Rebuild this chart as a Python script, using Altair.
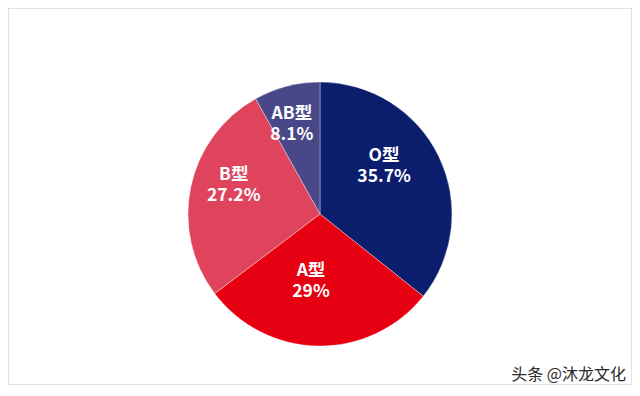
import altair as alt
import pandas as pd

types = ["O型", "A型", "B型", "AB型"]
shares = [35.7, 29.0, 27.2, 8.1]
pct_labels = ["35.7%", "29%", "27.2%", "8.1%"]
colors = ["#0b1e6e", "#e60012", "#df445c", "#484888"]
watermark = "头条 @沐龙文化"

df = pd.DataFrame({
    "type": types,
    "share": shares,
    "pct": pct_labels,
    "order": list(range(len(types))),
})

FONT = "Noto Sans CJK SC"
CX, CY, R = 312, 206, 132

base = alt.Chart(df).encode(
    theta=alt.Theta("share:Q", stack=True),
    order=alt.Order("order:O"),
    color=alt.Color("type:N", scale=alt.Scale(domain=types, range=colors), legend=None),
)

pie = base.mark_arc(outerRadius=R, stroke="white", strokeWidth=0.6, strokeOpacity=0.6).encode(
    x=alt.value(CX), y=alt.value(CY)
)

txt = dict(radius=80, dx=-8, font=FONT, fontSize=17.5, fontWeight="bold",
           align="center", baseline="middle")

names = base.mark_text(dy=-23, **txt).encode(
    x=alt.value(CX), y=alt.value(CY), text="type:N", color=alt.value("white"),
)
pcts = base.mark_text(dy=-2, **txt).encode(
    x=alt.value(CX), y=alt.value(CY), text="pct:N", color=alt.value("white"),
)

wm = alt.Chart(pd.DataFrame({"t": [watermark]})).mark_text(
    font=FONT, fontSize=16, align="right", baseline="middle", color="#2a2a2a"
).encode(
    x=alt.value(618), y=alt.value(367), text="t:N"
)

chart = alt.layer(pie, names, pcts, wm).properties(
    width=624, height=377, padding=0, autosize=alt.AutoSizeParams(type="none"),
    background="white",
).configure_view(stroke="#d9d9d9", strokeWidth=1.5, fill="white")

chart.save("out.html", embed_options={"renderer": "svg", "actions": False})
